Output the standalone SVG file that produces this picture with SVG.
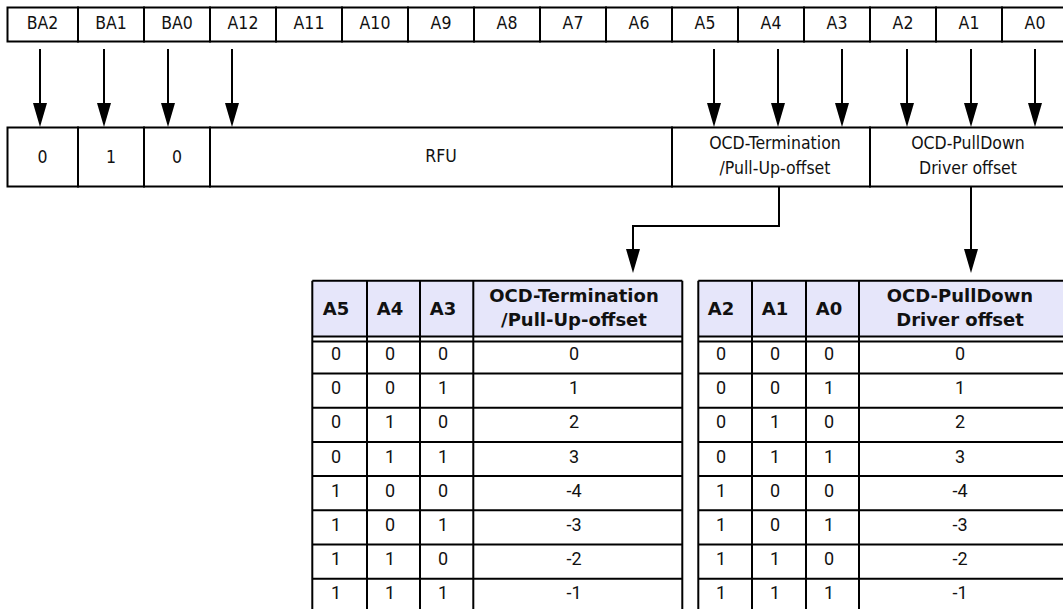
<svg xmlns="http://www.w3.org/2000/svg" width="1063" height="609" viewBox="0 0 1063 609">
<style>
.cell{fill:#fff;stroke:#000;stroke-width:2}
.t{font-family:"DejaVu Sans Condensed","DejaVu Sans",sans-serif;font-stretch:condensed;font-size:17.5px;fill:#111;text-anchor:middle}
.hd{fill:#e6e6fa;stroke:none}
.ln{stroke:#000;stroke-width:2;fill:none}
.h{font-family:"DejaVu Sans",sans-serif;font-weight:bold;font-size:18px;fill:#111;text-anchor:middle}
.d{font-family:Roboto,"Liberation Sans",sans-serif;font-size:18px;fill:#111;text-anchor:middle}
.c{stroke:#000;stroke-width:2;fill:none;marker-end:url(#ah)}
</style>
<defs>
<marker id="ah" markerUnits="userSpaceOnUse" markerWidth="24" markerHeight="14" refX="2" refY="7" orient="auto" viewBox="0 0 24 14">
<path d="M0,0 L24,7 L0,14 z" fill="#000"/>
</marker>
</defs>
<rect width="1063" height="609" fill="#fff"/>

<g id="top-bar">
<g id="top-BA2"><rect class="cell" x="7.5" y="7.5" width="70.5" height="34"/><text class="t" x="42.5" y="28.5">BA2</text></g>
<g id="top-BA1"><rect class="cell" x="78" y="7.5" width="66" height="34"/><text class="t" x="111" y="28.5">BA1</text></g>
<g id="top-BA0"><rect class="cell" x="144" y="7.5" width="66" height="34"/><text class="t" x="177" y="28.5">BA0</text></g>
<g id="top-A12"><rect class="cell" x="210" y="7.5" width="66" height="34"/><text class="t" x="243" y="28.5">A12</text></g>
<g id="top-A11"><rect class="cell" x="276" y="7.5" width="66" height="34"/><text class="t" x="309" y="28.5">A11</text></g>
<g id="top-A10"><rect class="cell" x="342" y="7.5" width="66" height="34"/><text class="t" x="375" y="28.5">A10</text></g>
<g id="top-A9"><rect class="cell" x="408" y="7.5" width="66" height="34"/><text class="t" x="441" y="28.5">A9</text></g>
<g id="top-A8"><rect class="cell" x="474" y="7.5" width="66" height="34"/><text class="t" x="507" y="28.5">A8</text></g>
<g id="top-A7"><rect class="cell" x="540" y="7.5" width="66" height="34"/><text class="t" x="573" y="28.5">A7</text></g>
<g id="top-A6"><rect class="cell" x="606" y="7.5" width="66" height="34"/><text class="t" x="639" y="28.5">A6</text></g>
<g id="top-A5"><rect class="cell" x="672" y="7.5" width="66" height="34"/><text class="t" x="705" y="28.5">A5</text></g>
<g id="top-A4"><rect class="cell" x="738" y="7.5" width="66" height="34"/><text class="t" x="771" y="28.5">A4</text></g>
<g id="top-A3"><rect class="cell" x="804" y="7.5" width="66" height="34"/><text class="t" x="837" y="28.5">A3</text></g>
<g id="top-A2"><rect class="cell" x="870" y="7.5" width="66" height="34"/><text class="t" x="903" y="28.5">A2</text></g>
<g id="top-A1"><rect class="cell" x="936" y="7.5" width="66" height="34"/><text class="t" x="969" y="28.5">A1</text></g>
<g id="top-A0"><rect class="cell" x="1002" y="7.5" width="66" height="34"/><text class="t" x="1035" y="28.5">A0</text></g>
</g>

<g id="bottom-bar">
<g id="val-BA2"><rect class="cell" x="7.5" y="127.5" width="70.5" height="59"/><text class="t" x="42.5" y="162.5">0</text></g>
<g id="val-BA1"><rect class="cell" x="78" y="127.5" width="66" height="59"/><text class="t" x="111" y="162.5">1</text></g>
<g id="val-BA0"><rect class="cell" x="144" y="127.5" width="66" height="59"/><text class="t" x="177" y="162.5">0</text></g>
<g id="val-RFU"><rect class="cell" x="210" y="127.5" width="462" height="59"/><text class="t" x="441" y="161.5">RFU</text></g>
<g id="val-OCDT"><rect class="cell" x="672" y="127.5" width="198" height="59"/><text class="t" x="775" y="148.5">OCD-Termination</text><text class="t" x="775" y="173.5">/Pull-Up-offset</text></g>
<g id="val-OCDP"><rect class="cell" x="870" y="127.5" width="198" height="59"/><text class="t" x="968" y="148.5">OCD-PullDown</text><text class="t" x="968" y="173.5">Driver offset</text></g>
</g>

<g id="connectors">
<line class="c" x1="40" y1="49" x2="40" y2="105"/>
<line class="c" x1="104" y1="49" x2="104" y2="105"/>
<line class="c" x1="168" y1="49" x2="168" y2="105"/>
<line class="c" x1="232" y1="49" x2="232" y2="105"/>
<line class="c" x1="714" y1="49" x2="714" y2="105"/>
<line class="c" x1="778" y1="49" x2="778" y2="105"/>
<line class="c" x1="842" y1="49" x2="842" y2="105"/>
<line class="c" x1="907" y1="49" x2="907" y2="105"/>
<line class="c" x1="971" y1="49" x2="971" y2="105"/>
<line class="c" x1="1035" y1="49" x2="1035" y2="105"/>
<polyline class="c" points="779,187 779,226 633,226 633,251"/>
<line class="c" x1="971" y1="187" x2="971" y2="251"/>
</g>

<g id="table-OCDT">
<rect class="hd" x="312.3" y="280.7" width="370" height="55.8"/>
<path class="ln" d="M312.3,280.7H682.3M312.3,336.5H682.3M312.3,341.5H682.3M312.3,373.5H682.3M312.3,407.7H682.3M312.3,441.9H682.3M312.3,476.1H682.3M312.3,510.3H682.3M312.3,544.5H682.3M312.3,578.7H682.3M312.3,280.7V620M367,280.7V620M420,280.7V620M473.3,280.7V620M682.3,280.7V620"/>
<text class="h" x="336" y="315">A5</text><text class="h" x="390" y="315">A4</text><text class="h" x="443" y="315">A3</text>
<text class="h" x="574" y="301.5">OCD-Termination</text><text class="h" x="574" y="325.5">/Pull-Up-offset</text>
<g class="d">
<text x="336" y="360">0</text><text x="390" y="360">0</text><text x="443" y="360">0</text><text x="574" y="360">0</text>
<text x="336" y="394.2">0</text><text x="390" y="394.2">0</text><text x="443" y="394.2">1</text><text x="574" y="394.2">1</text>
<text x="336" y="428.4">0</text><text x="390" y="428.4">1</text><text x="443" y="428.4">0</text><text x="574" y="428.4">2</text>
<text x="336" y="462.6">0</text><text x="390" y="462.6">1</text><text x="443" y="462.6">1</text><text x="574" y="462.6">3</text>
<text x="336" y="496.8">1</text><text x="390" y="496.8">0</text><text x="443" y="496.8">0</text><text x="574" y="496.8">-4</text>
<text x="336" y="531">1</text><text x="390" y="531">0</text><text x="443" y="531">1</text><text x="574" y="531">-3</text>
<text x="336" y="565.2">1</text><text x="390" y="565.2">1</text><text x="443" y="565.2">0</text><text x="574" y="565.2">-2</text>
<text x="336" y="599.4">1</text><text x="390" y="599.4">1</text><text x="443" y="599.4">1</text><text x="574" y="599.4">-1</text>
</g>
</g>

<g id="table-OCDP">
<rect class="hd" x="698.3" y="280.7" width="370" height="55.8"/>
<path class="ln" d="M698.3,280.7H1070M698.3,336.5H1070M698.3,341.5H1070M698.3,373.5H1070M698.3,407.7H1070M698.3,441.9H1070M698.3,476.1H1070M698.3,510.3H1070M698.3,544.5H1070M698.3,578.7H1070M698.3,280.7V620M752,280.7V620M806,280.7V620M859,280.7V620"/>
<text class="h" x="721" y="315">A2</text><text class="h" x="775" y="315">A1</text><text class="h" x="829" y="315">A0</text>
<text class="h" x="960" y="301.5">OCD-PullDown</text><text class="h" x="960" y="325.5">Driver offset</text>
<g class="d">
<text x="721" y="360">0</text><text x="775" y="360">0</text><text x="829" y="360">0</text><text x="960" y="360">0</text>
<text x="721" y="394.2">0</text><text x="775" y="394.2">0</text><text x="829" y="394.2">1</text><text x="960" y="394.2">1</text>
<text x="721" y="428.4">0</text><text x="775" y="428.4">1</text><text x="829" y="428.4">0</text><text x="960" y="428.4">2</text>
<text x="721" y="462.6">0</text><text x="775" y="462.6">1</text><text x="829" y="462.6">1</text><text x="960" y="462.6">3</text>
<text x="721" y="496.8">1</text><text x="775" y="496.8">0</text><text x="829" y="496.8">0</text><text x="960" y="496.8">-4</text>
<text x="721" y="531">1</text><text x="775" y="531">0</text><text x="829" y="531">1</text><text x="960" y="531">-3</text>
<text x="721" y="565.2">1</text><text x="775" y="565.2">1</text><text x="829" y="565.2">0</text><text x="960" y="565.2">-2</text>
<text x="721" y="599.4">1</text><text x="775" y="599.4">1</text><text x="829" y="599.4">1</text><text x="960" y="599.4">-1</text>
</g>
</g>
</svg>
